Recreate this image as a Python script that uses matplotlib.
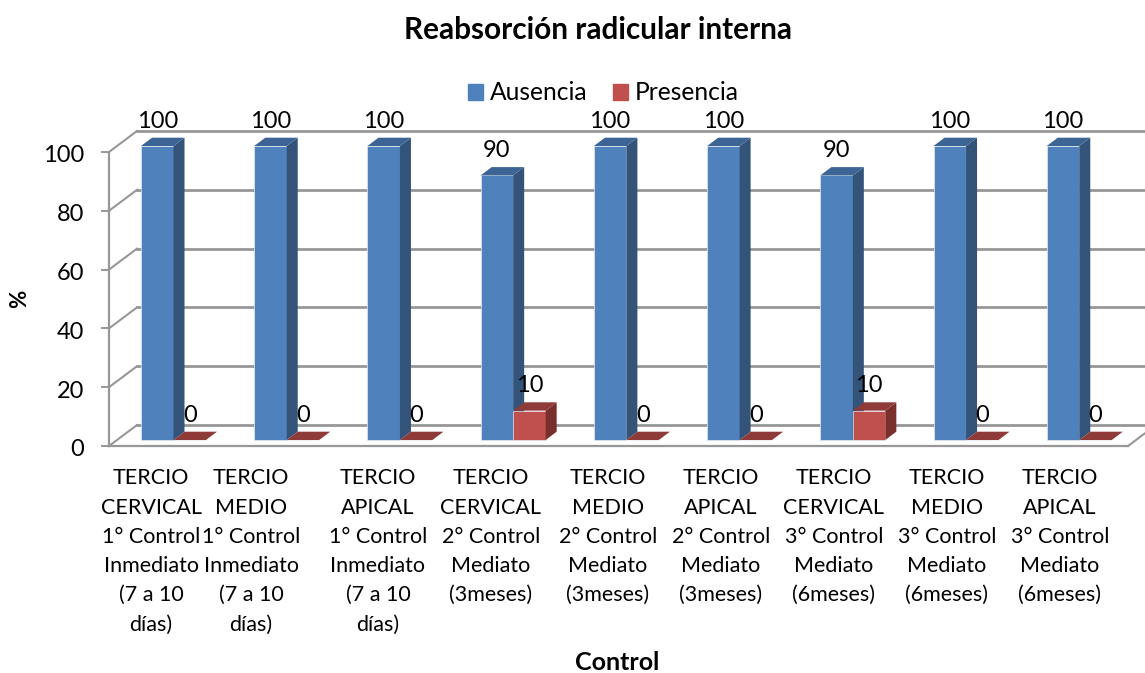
"""
3d looking grouped bars, reabsorcion radicular interna
the depth of the bars is faked with polygons on a plain 2d axes
"""
import matplotlib
matplotlib.use("Agg")
import matplotlib.pyplot as plt
import numpy as np
from matplotlib.patches import Patch, Polygon
from matplotlib.transforms import ScaledTranslation

plt.rcParams["font.family"] = ["Lato", "DejaVu Sans"]

# data
categories = [
    "TERCIO\nCERVICAL\n1° Control\nInmediato\n(7 a 10\ndías)",
    "TERCIO\nMEDIO\n1° Control\nInmediato\n(7 a 10\ndías)",
    "TERCIO\nAPICAL\n1° Control\nInmediato\n(7 a 10\ndías)",
    "TERCIO\nCERVICAL\n2° Control\nMediato\n(3meses)",
    "TERCIO\nMEDIO\n2° Control\nMediato\n(3meses)",
    "TERCIO\nAPICAL\n2° Control\nMediato\n(3meses)",
    "TERCIO\nCERVICAL\n3° Control\nMediato\n(6meses)",
    "TERCIO\nMEDIO\n3° Control\nMediato\n(6meses)",
    "TERCIO\nAPICAL\n3° Control\nMediato\n(6meses)",
]
ausencia = [100, 100, 100, 90, 100, 100, 90, 100, 100]
presencia = [0, 0, 0, 10, 0, 0, 10, 0, 0]
y_ticks = [0, 20, 40, 60, 80, 100]

W, H = 1145, 673
GREY = "#979797"
FONT = 17

fig = plt.figure(figsize=(W / 100, H / 100), dpi=100)
ax = fig.add_axes([109 / W, 1 - 446 / H, (1128 - 109) / W, (446 - 152) / H])
ax.set_xlim(0, len(categories))
ax.set_ylim(0, 100)

# one data unit in pixels, used to turn pixel depths into data offsets
px_x = (1128 - 109) / len(categories)
px_y = (446 - 152) / 100


def dx(px):
    return px / px_x


def dy(px):
    return px / px_y


# walls: diagonals from the front axis plus the back gridlines
for t in y_ticks:
    ax.plot([0, dx(28)], [t, t + dy(21)], color=GREY, lw=1.5, clip_on=False, zorder=1)
    ax.plot([dx(28), dx(1145 - 109)], [t + dy(21), t + dy(21)], color=GREY, lw=2,
            clip_on=False, zorder=1)
ax.plot([len(categories), len(categories) + dx(28)], [0, dy(21)], color=GREY, lw=1.5,
        clip_on=False, zorder=1)


def bar3d(left, width, value, front, side, top, z):
    base = dy(6)
    d_x, d_y = dx(11), dy(8.3)
    right = left + width
    ytop = base + value
    ax.bar(left, value, width, bottom=base, align="edge", color=front,
           edgecolor="#e4e9f0", linewidth=0.5, zorder=z, clip_on=False)
    if value > 0:
        ax.add_patch(Polygon([(right, base), (right + d_x, base + d_y),
                              (right + d_x, ytop + d_y), (right, ytop)],
                             color=side, lw=0, zorder=z, clip_on=False))
    ax.add_patch(Polygon([(left, ytop), (right, ytop),
                          (right + d_x, ytop + d_y), (left + d_x, ytop + d_y)],
                         color=top, lw=0, zorder=z, clip_on=False))
    ax.annotate(str(value), (left + width / 2, ytop), xytext=(0, 18),
                textcoords="offset points", ha="center", va="center",
                fontsize=FONT, color="black", zorder=10, annotation_clip=False)


x = np.arange(len(categories))
bar_w = 32.5 / px_x
bar_start = (141 - 109) / px_x
for i, (a, p) in enumerate(zip(ausencia, presencia)):
    bar3d(x[i] + bar_start, bar_w, a, "#4F81BD", "#335379", "#3C6494", 3)
    bar3d(x[i] + bar_start + bar_w, bar_w, p, "#C0504D", "#7A2F2D", "#8E3A38", 4)

# axes
for s in ("top", "right"):
    ax.spines[s].set_visible(False)
for s in ("left", "bottom"):
    ax.spines[s].set_color(GREY)
    ax.spines[s].set_linewidth(1.6)
ax.set_yticks(y_ticks)
ax.tick_params(axis="y", length=5.8, width=1.4, color=GREY, labelsize=FONT, pad=12)
for lab in ax.get_yticklabels():
    lab.set_transform(lab.get_transform() + ScaledTranslation(0, -0.02, fig.dpi_scale_trans))

# excel wrapped these labels off centre, so the ticks are nudged by hand
label_px = [151, 251, 378, 491, 608, 721, 834, 947, 1060]
ax.set_xticks([(p - 109) / px_x for p in label_px])
ax.set_xticklabels(categories, fontsize=15.5, linespacing=1.58, va="top")
ax.tick_params(axis="x", length=0, pad=16)

# legend
handles = [Patch(color="#4F81BD", label="Ausencia"), Patch(color="#C0504D", label="Presencia")]
fig.legend(handles=handles, loc="center", bbox_to_anchor=(603.5 / W, 1 - 93 / H), ncol=2,
           frameon=False, fontsize=17.7, handlelength=0.61, handleheight=0.61,
           handletextpad=0.28, columnspacing=1.06, borderpad=0, borderaxespad=0)

# titles
fig.text(598 / W, 1 - 30 / H, "Reabsorción radicular interna", fontsize=21.4,
         fontweight="bold", ha="center", va="center")
fig.text(617 / W, 1 - 662 / H, "Control", fontsize=18, fontweight="bold",
         ha="center", va="center")
fig.text(20 / W, 1 - 299 / H, "%", fontsize=16, fontweight="bold", rotation=90,
         ha="center", va="center")

plt.savefig("out.png", dpi=100, facecolor="white")
